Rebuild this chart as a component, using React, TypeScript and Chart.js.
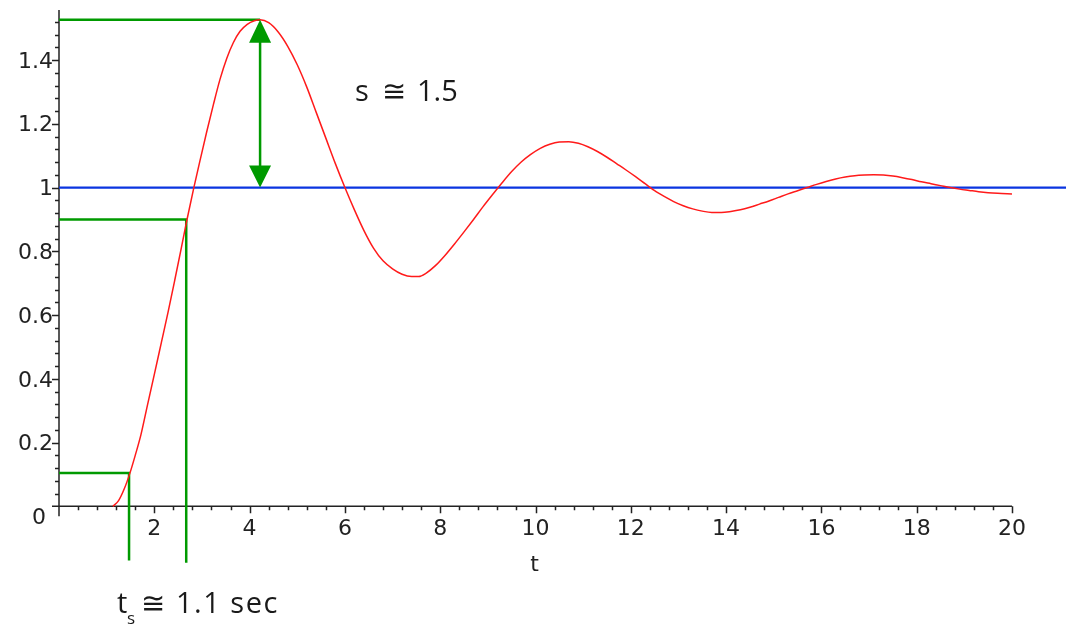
import React, { useEffect, useRef } from "react";
import { Chart, registerables } from "chart.js";

Chart.register(...registerables);

// Step response
const timeValues = [
  1.13, 1.25, 1.37, 1.49, 1.6, 1.72, 1.86, 2.01, 2.15, 2.29, 2.43, 2.56, 2.68, 2.83, 2.96, 3.1, 3.24, 3.38, 3.52, 3.66,
  3.8, 3.95, 4.1, 4.22, 4.4, 4.6, 4.8, 5.0, 5.2, 5.4, 5.6, 5.8, 6.0, 6.2, 6.4, 6.6, 6.8, 7.0, 7.2, 7.4, 7.55, 7.7, 7.9,
  8.1, 8.3, 8.5, 8.7, 8.9, 9.1, 9.3, 9.5, 9.7, 9.9, 10.1, 10.3, 10.5, 10.7, 10.9, 11.1, 11.3, 11.5, 11.7, 11.9, 12.1,
  12.3, 12.5, 12.7, 12.9, 13.1, 13.3, 13.5, 13.7, 13.9, 14.1, 14.3, 14.5, 14.7, 14.9, 15.1, 15.3, 15.5, 15.7, 15.9,
  16.1, 16.3, 16.5, 16.7, 16.9, 17.1, 17.3, 17.5, 17.7, 17.9, 18.1, 18.3, 18.5, 18.7, 18.9, 19.1, 19.3, 19.5, 19.7, 20.0,
];
const responseValues = [
  0.0, 0.018, 0.055, 0.105, 0.16, 0.225, 0.32, 0.42, 0.515, 0.61, 0.71, 0.805, 0.895, 1.0, 1.085, 1.175, 1.26, 1.34,
  1.405, 1.455, 1.49, 1.512, 1.523, 1.526, 1.517, 1.488, 1.443, 1.385, 1.315, 1.235, 1.155, 1.075, 1.0, 0.93, 0.865,
  0.81, 0.77, 0.745, 0.728, 0.721, 0.721, 0.731, 0.755, 0.787, 0.823, 0.861, 0.9, 0.94, 0.978, 1.015, 1.05, 1.08,
  1.104, 1.123, 1.136, 1.143, 1.144, 1.139, 1.128, 1.113, 1.095, 1.075, 1.055, 1.034, 1.012, 0.99, 0.972, 0.956,
  0.943, 0.933, 0.926, 0.922, 0.922, 0.925, 0.93, 0.938, 0.948, 0.958, 0.969, 0.98, 0.99, 1.0, 1.01, 1.019, 1.027,
  1.033, 1.037, 1.039, 1.04, 1.039, 1.036, 1.031, 1.025, 1.018, 1.012, 1.006, 1.0, 0.995, 0.991, 0.987, 0.984, 0.982,
  0.98,
];

const setpointValue = 1;
const setpointEndT = 21.2;
const peakT = 4.22;
const peakValue = 1.526;
const lowMarkT = 1.47;
const lowMarkValue = 0.105;
const highMarkT = 2.67;
const highMarkValue = 0.9;
const markerBottomLow = -0.17;
const markerBottomHigh = -0.177;

const xMajorTicks = [2, 4, 6, 8, 10, 12, 14, 16, 18, 20];
const yMajorTicks = [0.2, 0.4, 0.6, 0.8, 1, 1.2, 1.4];
const yMajorLabels = ["0.2", "0.4", "0.6", "0.8", "1", "1.2", "1.4"];
const xMinorStep = 0.4;
const yMinorStep = 0.04;
const xAxisMax = 20;
const yAxisTop = 1.557;
const yMinorTop = 1.52;

const GREEN = "#009a00";
const AXIS = "#222222";

const axesPlugin = {
  id: "mapleAxes",
  beforeDatasetsDraw(chart: any) {
    const ctx = chart.ctx;
    const xs = chart.scales.x;
    const ys = chart.scales.y;
    const ox = xs.getPixelForValue(0);
    const oy = ys.getPixelForValue(0);
    ctx.save();
    ctx.strokeStyle = AXIS;
    ctx.lineWidth = 1.5;
    ctx.beginPath();
    ctx.moveTo(ox - 7, oy);
    ctx.lineTo(xs.getPixelForValue(xAxisMax), oy);
    ctx.moveTo(ox, oy + 10);
    ctx.lineTo(ox, ys.getPixelForValue(yAxisTop));
    const nx = Math.round(xAxisMax / xMinorStep);
    for (let i = 1; i <= nx; i++) {
      const v = i * xMinorStep;
      const px = Math.round(xs.getPixelForValue(v)) + 0.5;
      const major = xMajorTicks.some((m) => Math.abs(m - v) < 1e-6);
      ctx.moveTo(px, oy);
      ctx.lineTo(px, oy + (major ? 7 : 4));
    }
    const ny = Math.round(yMinorTop / yMinorStep);
    for (let i = 1; i <= ny; i++) {
      const v = i * yMinorStep;
      const py = Math.round(ys.getPixelForValue(v)) + 0.5;
      const major = yMajorTicks.some((m) => Math.abs(m - v) < 1e-6);
      ctx.moveTo(ox, py);
      ctx.lineTo(ox - (major ? 7 : 4), py);
    }
    ctx.stroke();

    ctx.fillStyle = AXIS;
    ctx.font = '22px "DejaVu Sans"';
    ctx.textAlign = "center";
    ctx.textBaseline = "middle";
    xMajorTicks.forEach((v) => {
      ctx.fillText(String(v), xs.getPixelForValue(v), oy + 23);
    });
    ctx.textAlign = "right";
    yMajorTicks.forEach((v, i) => {
      ctx.fillText(yMajorLabels[i], ox - 6, ys.getPixelForValue(v) + 2);
    });
    ctx.fillText("0", ox - 13, oy + 12);
    ctx.textAlign = "center";
    ctx.fillText("t", xs.getPixelForValue(10) - 1, oy + 59);
    ctx.restore();
  },
  afterDatasetsDraw(chart: any) {
    const ctx = chart.ctx;
    const xs = chart.scales.x;
    const ys = chart.scales.y;
    const ax = xs.getPixelForValue(peakT);
    const top = ys.getPixelForValue(peakValue);
    const bot = ys.getPixelForValue(setpointValue);
    ctx.save();
    ctx.fillStyle = GREEN;
    ctx.beginPath();
    ctx.moveTo(ax, top);
    ctx.lineTo(ax - 11, top + 23);
    ctx.lineTo(ax + 11, top + 23);
    ctx.closePath();
    ctx.fill();
    ctx.beginPath();
    ctx.moveTo(ax, bot);
    ctx.lineTo(ax - 11, bot - 22);
    ctx.lineTo(ax + 11, bot - 22);
    ctx.closePath();
    ctx.fill();

    ctx.fillStyle = "#1a1a1a";
    ctx.textAlign = "left";
    ctx.textBaseline = "alphabetic";
    ctx.font = '29px "Open Sans"';
    ctx.fillText("s", 355, 101);
    ctx.fillText("\u2245", 382, 101);
    ctx.fillText("1.5", 417, 101);

    ctx.fillText("t", 117, 613);
    ctx.font = '17px "Open Sans"';
    ctx.fillText("s", 127, 624);
    ctx.font = '29px "Open Sans"';
    ctx.fillText("\u2245", 141, 613);
    (ctx as any).letterSpacing = "1.5px";
    ctx.fillText("1.1 sec", 176, 613);
    ctx.restore();
  },
};

export default function App() {
  const ref = useRef<HTMLCanvasElement | null>(null);
  useEffect(() => {
    if (!ref.current) return;
    const response = timeValues.map((t, i) => ({ x: t, y: responseValues[i] }));
    const chart = new Chart(ref.current, {
      type: "line",
      data: {
        datasets: [
          {
            data: response,
            borderColor: "#ff1a1a",
            borderWidth: 1.5,
            pointRadius: 0,
            cubicInterpolationMode: "monotone",
            order: 0,
          },
          {
            data: [
              { x: 0, y: setpointValue },
              { x: setpointEndT, y: setpointValue },
            ],
            borderColor: "#0a35e0",
            borderWidth: 2.2,
            pointRadius: 0,
            clip: false,
            order: 1,
          },
          {
            data: [
              { x: 0, y: peakValue },
              { x: peakT, y: peakValue },
            ],
            borderColor: GREEN,
            borderWidth: 2.5,
            pointRadius: 0,
            order: 2,
          },
          {
            data: [
              { x: peakT, y: peakValue - 0.05 },
              { x: peakT, y: setpointValue + 0.05 },
            ],
            borderColor: GREEN,
            borderWidth: 2.5,
            pointRadius: 0,
            order: 2,
          },
          {
            data: [
              { x: 0, y: highMarkValue },
              { x: highMarkT, y: highMarkValue },
              { x: highMarkT, y: markerBottomHigh },
            ],
            borderColor: GREEN,
            borderWidth: 2.5,
            pointRadius: 0,
            order: 2,
          },
          {
            data: [
              { x: 0, y: lowMarkValue },
              { x: lowMarkT, y: lowMarkValue },
              { x: lowMarkT, y: markerBottomLow },
            ],
            borderColor: GREEN,
            borderWidth: 2.5,
            pointRadius: 0,
            order: 2,
          },
        ],
      },
      options: {
        animation: false,
        responsive: false,
        events: [],
        layout: { padding: { left: 59, right: 54, top: 9, bottom: 27 } },
        plugins: { legend: { display: false }, tooltip: { enabled: false } },
        scales: {
          x: { type: "linear", min: 0, max: 20, display: false },
          y: { type: "linear", min: -0.3, max: 1.56, display: false },
        },
      },
      plugins: [axesPlugin],
    });
    return () => chart.destroy();
  }, []);
  return (
    <canvas
      ref={ref}
      width={1066}
      height={629}
      style={{ position: "absolute", left: 0, top: 0, width: 1066, height: 629, background: "#fff" }}
    />
  );
}
